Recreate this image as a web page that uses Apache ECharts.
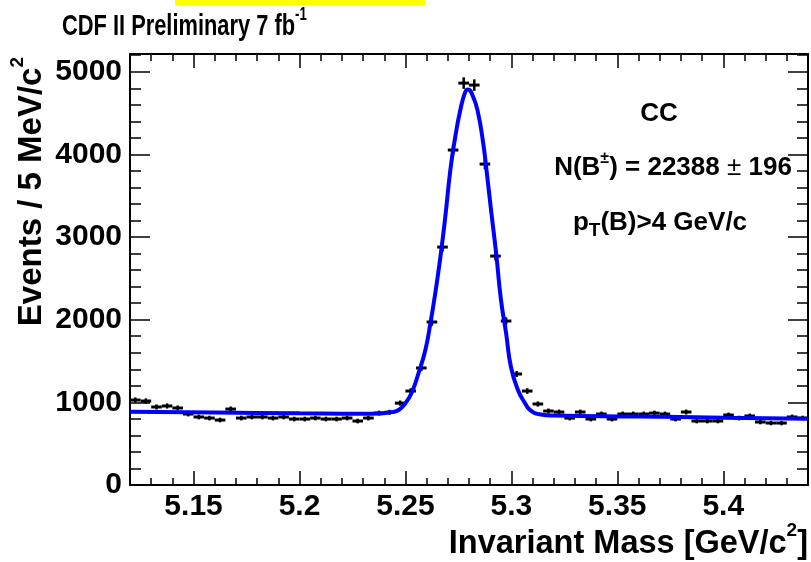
<!DOCTYPE html>
<html>
<head>
<meta charset="utf-8">
<script src="https://cdn.jsdelivr.net/npm/echarts@6/dist/echarts.min.js"></script>
<style>
html,body{margin:0;padding:0;background:#fff;}
#chart{width:811px;height:562px;}
</style>
</head>
<body>
<div id="chart"></div>
<script>
// ---- Data ----
const binCenters = [5.1225,5.1275,5.1325,5.1375,5.1425,5.1475,5.1525,5.1575,5.1625,5.1675,
  5.1725,5.1775,5.1825,5.1875,5.1925,5.1975,5.2025,5.2075,5.2125,5.2175,
  5.2225,5.2275,5.2325,5.2375,5.2425,5.2475,5.2525,5.2575,5.2625,5.2675,
  5.2725,5.2775,5.2825,5.2875,5.2925,5.2975,5.3025,5.3075,5.3125,5.3175,
  5.3225,5.3275,5.3325,5.3375,5.3425,5.3475,5.3525,5.3575,5.3625,5.3675,
  5.3725,5.3775,5.3825,5.3875,5.3925,5.3975,5.4025,5.4075,5.4125,5.4175,
  5.4225,5.4275,5.4325,5.4375];
const eventCounts = [1028,1016,944,956,932,859,823,810,786,919,
  810,823,823,810,823,798,798,810,798,798,
  810,774,810,870,880,991,1137,1416,1972,2879,
  4053,4863,4839,3883,2770,1984,1343,1137,980,895,
  883,810,883,798,859,798,859,859,859,870,
  859,798,883,774,774,774,847,810,835,762,
  750,750,823,810];
const fitMass = [5.12,5.16,5.20,5.23,5.238,5.243,5.2468,5.2500,5.2530,5.2562,5.2594,5.2618,5.2641,5.2665,
  5.2688,5.2712,5.2735,5.2759,5.2782,5.2795,5.2820,5.2843,5.2867,5.2881,5.2904,5.2928,5.2951,5.2975,
  5.2998,5.3031,5.3064,5.3092,5.3139,5.32,5.36,5.40,5.44];
const fitValues = [885,876,867,862,866,880,907,990,1120,1355,1633,1960,2323,2758,
  3242,3811,4210,4537,4754,4785,4694,4500,4137,3847,3327,2807,2238,1839,
  1428,1149,992,900,852,840,828,815,803];
const binWidth = 0.005;
const xMajorTicks = [5.15,5.2,5.25,5.3,5.35,5.4];
const xMinorTicks = [5.13,5.14,5.16,5.17,5.18,5.19,5.21,5.22,5.23,5.24,5.26,5.27,5.28,5.29,
  5.31,5.32,5.33,5.34,5.36,5.37,5.38,5.39,5.41,5.42,5.43];
const yMajorTicks = [0,1000,2000,3000,4000,5000];
const yMinorTicks = [200,400,600,800,1200,1400,1600,1800,2200,2400,2600,2800,3200,3400,3600,3800,
  4200,4400,4600,4800,5200];
const xRange = [5.12,5.44];
const yRange = [0,5215];

// ---- Chart ----
const FONT = '"Liberation Sans", Arial, Helvetica, sans-serif';
const chart = echarts.init(document.getElementById('chart'), null, {renderer:'canvas'});

function xAx(pos, ticks, len, withLabel, withLine){
  return {
    type:'value', position:pos, min:xRange[0], max:xRange[1],
    axisLine:{show:withLine, onZero:false, lineStyle:{color:'#000', width:2}},
    axisTick:{show:true, inside:true, length:len, customValues:ticks, lineStyle:{color:'#000', width:1.5}},
    axisLabel:{show:withLabel, customValues:ticks, margin:7, color:'#000', fontSize:30, fontWeight:'bold', fontFamily:FONT,
      formatter:v=>String(v)},
    splitLine:{show:false}, minorTick:{show:false}
  };
}
function yAx(pos, ticks, len, withLabel, withLine){
  return {
    type:'value', position:pos, min:yRange[0], max:yRange[1],
    axisLine:{show:withLine, onZero:false, lineStyle:{color:'#000', width:2}},
    axisTick:{show:true, inside:true, length:len, customValues:ticks, lineStyle:{color:'#000', width:1.5}},
    axisLabel:{show:withLabel, customValues:ticks, margin:8, color:'#000', fontSize:30, fontWeight:'bold', fontFamily:FONT,
      formatter:v=>String(v)},
    splitLine:{show:false}, minorTick:{show:false}
  };
}

const pointData = binCenters.map((m,i)=>[m, eventCounts[i]]);
const fitData = fitMass.map((m,i)=>[m, fitValues[i]]);

const option = {
  animation:false,
  backgroundColor:'#fff',
  grid:{left:130, right:3, top:54, bottom:77, containLabel:false, outerBoundsMode:'none'},
  xAxis:[
    xAx('bottom', xMajorTicks, 14, true, true),
    xAx('bottom', xMinorTicks, 7, false, false),
    xAx('top', xMajorTicks, 14, false, true),
    xAx('top', xMinorTicks, 7, false, false)
  ],
  yAxis:[
    yAx('left', yMajorTicks, 20, true, true),
    yAx('left', yMinorTicks, 11, false, false),
    yAx('right', yMajorTicks, 20, false, true),
    yAx('right', yMinorTicks, 11, false, false)
  ],
  series:[
    {
      type:'custom', xAxisIndex:0, yAxisIndex:0, z:2,
      data:pointData,
      renderItem:function(params, api){
        const x = api.value(0), y = api.value(1), e = Math.sqrt(y);
        const a = api.coord([x - binWidth/2, y]);
        const b = api.coord([x + binWidth/2, y]);
        const c = api.coord([x, y - e]);
        const d = api.coord([x, y + e]);
        return {type:'group', children:[
          {type:'line', shape:{x1:a[0], y1:a[1], x2:b[0], y2:b[1]}, style:{stroke:'#000', lineWidth:3}},
          {type:'line', shape:{x1:c[0], y1:c[1], x2:d[0], y2:d[1]}, style:{stroke:'#000', lineWidth:2.5}}
        ]};
      }
    },
    {
      type:'line', xAxisIndex:0, yAxisIndex:0, z:3,
      data:fitData, showSymbol:false, smooth:0.5,
      lineStyle:{color:'#0000ff', width:4}, clip:true
    }
  ],
  graphic:[
    {type:'rect', shape:{x:175, y:0, width:250, height:5}, style:{fill:'#ffff00'}},
    {type:'text', x:62, y:24, scaleX:0.78, scaleY:1.05, style:{
      text:'{m|CDF II Preliminary 7 fb}{s|-1}', verticalAlign:'middle', align:'left',
      rich:{m:{fontSize:28, fontWeight:'bold', fontFamily:FONT, fill:'#000', lineHeight:34, verticalAlign:'bottom'},
            s:{fontSize:17, fontWeight:'bold', fontFamily:FONT, fill:'#000', lineHeight:17, verticalAlign:'top'}}}},
    {type:'text', x:808, y:541, style:{
      text:'{m|Invariant Mass [GeV/c}{s|2}{m|]}', verticalAlign:'middle', align:'right',
      rich:{m:{fontSize:32.5, fontWeight:'bold', fontFamily:FONT, fill:'#000', lineHeight:40, verticalAlign:'bottom'},
            s:{fontSize:19, fontWeight:'bold', fontFamily:FONT, fill:'#000', lineHeight:19, verticalAlign:'top'}}}},
    {type:'text', x:28, y:57, rotation:Math.PI/2, style:{
      text:'{m|Events / 5 MeV/c}{s|2}', verticalAlign:'middle', align:'right',
      rich:{m:{fontSize:33, fontWeight:'bold', fontFamily:FONT, fill:'#000', lineHeight:40, verticalAlign:'bottom'},
            s:{fontSize:19, fontWeight:'bold', fontFamily:FONT, fill:'#000', lineHeight:19, verticalAlign:'top'}}}},
    {type:'text', x:659, y:114, style:{
      text:'CC', align:'center', verticalAlign:'middle',
      fontSize:26, fontWeight:'bold', fontFamily:FONT, fill:'#000'}},
    {type:'text', x:673, y:166, style:{
      text:'{m|N(B}{s|±}{m|) = 22388 }{p|±}{m| 196}', align:'center', verticalAlign:'middle',
      rich:{m:{fontSize:26, fontWeight:'bold', fontFamily:FONT, fill:'#000', lineHeight:30, verticalAlign:'bottom'},
            p:{fontSize:26, fontWeight:'normal', fontFamily:FONT, fill:'#000', lineHeight:30, verticalAlign:'bottom'},
            s:{fontSize:16, fontWeight:'bold', fontFamily:FONT, fill:'#000', lineHeight:16, verticalAlign:'top'}}}},
    {type:'text', x:660, y:225, style:{
      text:'{m|p}{t|T}{m|(B)>4 GeV/c}', align:'center', verticalAlign:'middle',
      rich:{m:{fontSize:26, fontWeight:'bold', fontFamily:FONT, fill:'#000', lineHeight:30, verticalAlign:'top'},
            t:{fontSize:19, fontWeight:'bold', fontFamily:FONT, fill:'#000', lineHeight:19, verticalAlign:'bottom'}}}}
  ]
};
chart.setOption(option);
</script>
</body>
</html>
